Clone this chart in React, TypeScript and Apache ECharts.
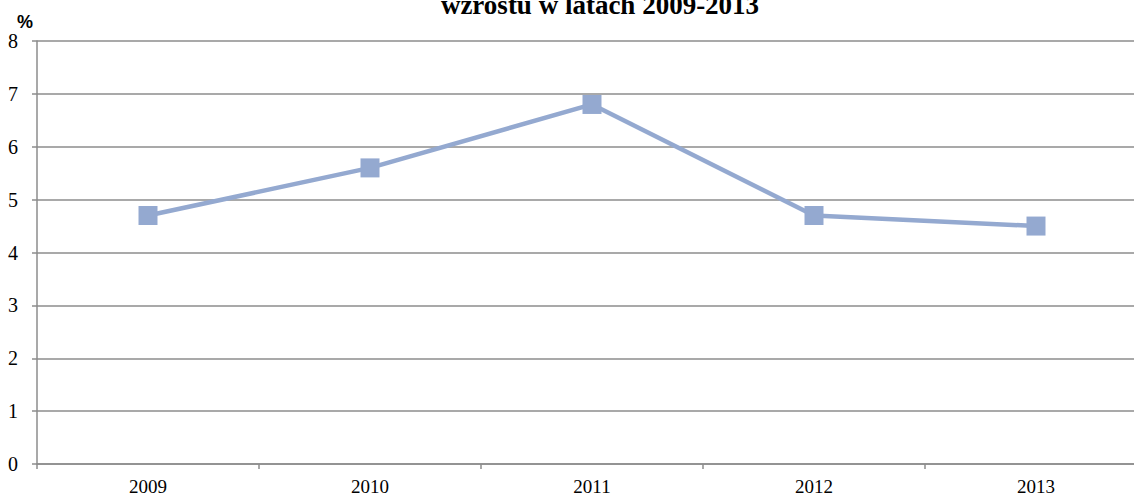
import React, { useEffect, useRef } from "react";
import * as echarts from "echarts";

const years = ["2009", "2010", "2011", "2012", "2013"];
const values = [4.7, 5.6, 6.8, 4.7, 4.5];
const titleText = "wzrostu w latach 2009-2013";
const unitLabel = "%";

const SERIF = "Liberation Serif";
const SANS = "Liberation Sans";

export default function App() {
  const ref = useRef<HTMLDivElement>(null);
  useEffect(() => {
    if (!ref.current) return;
    const chart = echarts.init(ref.current, null, { renderer: "svg" });
    chart.setOption({
      animation: false,
      backgroundColor: "#ffffff",
      grid: { left: 37, top: 41, bottom: 33, width: 1110, outerBoundsMode: "none", containLabel: false },
      graphic: [
        {
          type: "text",
          x: 600,
          y: 18,
          style: {
            text: titleText,
            align: "center",
            verticalAlign: "bottom",
            fontFamily: SERIF,
            fontWeight: "bold",
            fontSize: 27,
            fill: "#000",
          },
        },
        {
          type: "text",
          x: 25,
          y: 22,
          style: {
            text: unitLabel,
            align: "center",
            verticalAlign: "middle",
            fontFamily: SANS,
            fontWeight: "bold",
            fontSize: 18,
            fill: "#000",
          },
        },
      ],
      xAxis: {
        type: "category",
        data: years,
        boundaryGap: true,
        axisLine: { lineStyle: { color: "#8c8c8c", width: 1.5 } },
        axisTick: { show: true, length: 5, lineStyle: { color: "#8c8c8c", width: 1.5 } },
        axisLabel: {
          color: "#000",
          fontFamily: SERIF,
          fontSize: 19,
          lineHeight: 19,
          margin: 13,
        },
        splitLine: { show: false },
      },
      yAxis: {
        type: "value",
        min: 0,
        max: 8,
        interval: 1,
        axisLine: { show: true, lineStyle: { color: "#8c8c8c", width: 1.5 } },
        axisTick: { show: true, length: 5, lineStyle: { color: "#8c8c8c", width: 1.5 } },
        axisLabel: {
          color: "#000",
          fontFamily: SERIF,
          fontSize: 20,
          margin: 19,
        },
        splitLine: { show: true, lineStyle: { color: "#8c8c8c", width: 1.5 } },
      },
      series: [
        {
          type: "line",
          data: values,
          symbol: "rect",
          symbolSize: 19,
          itemStyle: { color: "#94a9d0" },
          lineStyle: { color: "#94a9d0", width: 4.5 },
        },
      ],
    });
    return () => chart.dispose();
  }, []);
  return <div ref={ref} style={{ width: 1134, height: 497, position: "absolute", left: 0, top: 0 }} />;
}
